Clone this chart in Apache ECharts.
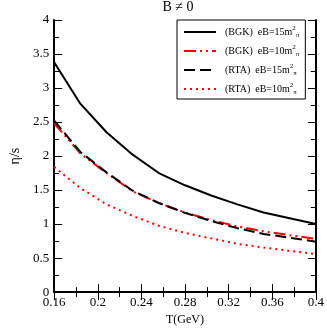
<!DOCTYPE html>
<html>
<head>
<meta charset="utf-8">
<script src="https://cdn.jsdelivr.net/npm/echarts@6/dist/echarts.min.js"></script>
<style>
  html, body { margin: 0; padding: 0; background: #fff; }
  #main { width: 327px; height: 331px; }
</style>
</head>
<body>
<div id="main"></div>
<script>
// temperature points (GeV)
var temps = [0.16, 0.184, 0.208, 0.232, 0.256, 0.28, 0.304, 0.328, 0.352, 0.376, 0.4];
// eta/s values
var bgk15 = [3.38, 2.77, 2.35, 2.02, 1.75, 1.57, 1.42, 1.29, 1.17, 1.085, 1.0];
var bgk10 = [2.48, 2.04, 1.75, 1.48, 1.31, 1.17, 1.06, 0.965, 0.893, 0.836, 0.784];
var rta15 = [2.52, 2.06, 1.76, 1.49, 1.31, 1.165, 1.045, 0.94, 0.855, 0.80, 0.74];
var rta10 = [1.84, 1.53, 1.29, 1.12, 0.975, 0.87, 0.79, 0.71, 0.655, 0.605, 0.56];

var legendText = {
    'bgk15': '{t|(BGK)  eB=15m}{sup|2}{sub|π}',
    'bgk10': '{t|(BGK)  eB=10m}{sup|2}{sub|π}',
    'rta15': '{t|(RTA)  eB=15m}{sup|2}{sub|π}',
    'rta10': '{t|(RTA)  eB=10m}{sup|2}{sub|π}'
};

function pairs(vals) {
    var out = [];
    for (var i = 0; i < temps.length; i++) {
        out.push([temps[i], vals[i]]);
    }
    return out;
}

var serif = 'Liberation Serif';
var chart = echarts.init(document.getElementById('main'));

var tickX = function (v) { return String(+v.toFixed(2)); };

var option = {
    animation: false,
    backgroundColor: '#fff',
    title: {
        text: 'B ≠ 0',
        left: 178,
        top: 0,
        padding: 0,
        textAlign: 'center',
        textStyle: { fontFamily: serif, fontSize: 14, fontWeight: 'normal', color: '#000' }
    },
    grid: { left: 38, right: 9, top: 20, bottom: 32 },
    legend: {
        left: 177,
        top: 20,
        orient: 'vertical',
        padding: [5, 6, 3, 6],
        itemGap: 5,
        itemWidth: 32,
        itemHeight: 14,
        borderColor: '#000',
        borderWidth: 1,
        borderRadius: 0,
        backgroundColor: '#fff',
        selectedMode: false,
        itemStyle: { opacity: 0, borderWidth: 0 },
        formatter: function (name) { return legendText[name]; },
        textStyle: {
            padding: [0, 0, 0, 4],
            rich: {
                t: { fontFamily: serif, fontSize: 10, color: '#000', lineHeight: 14 },
                sup: { fontFamily: serif, fontSize: 7, color: '#000', lineHeight: 14, verticalAlign: 'top' },
                sub: { fontFamily: serif, fontSize: 7, color: '#000', lineHeight: 14, verticalAlign: 'bottom' }
            }
        },
        data: ['bgk15', 'bgk10', 'rta15', 'rta10']
    },
    xAxis: [{
        type: 'value',
        min: 0.16,
        max: 0.4,
        interval: 0.04,
        name: 'T(GeV)',
        nameLocation: 'middle',
        nameGap: 18,
        nameTextStyle: { fontFamily: serif, fontSize: 12, color: '#000' },
        axisLine: { show: true, lineStyle: { color: '#000', width: 2 } },
        axisTick: { inside: true, length: 8, lineStyle: { color: '#000', width: 1 } },
        minorTick: { show: true, splitNumber: 2, length: 5, lineStyle: { color: '#000', width: 1 } },
        splitLine: { show: false },
        axisLabel: { margin: 4, fontFamily: serif, fontSize: 13, color: '#000', formatter: tickX, hideOverlap: false }
    }, {
        type: 'value',
        position: 'top',
        min: 0.16,
        max: 0.4,
        interval: 0.04,
        axisLine: { show: true, lineStyle: { color: '#000', width: 2 } },
        axisTick: { inside: true, length: 8, lineStyle: { color: '#000', width: 1 } },
        minorTick: { show: true, splitNumber: 2, length: 5, lineStyle: { color: '#000', width: 1 } },
        splitLine: { show: false },
        axisLabel: { show: false }
    }],
    yAxis: [{
        type: 'value',
        min: 0,
        max: 4,
        interval: 0.5,
        name: 'η/s',
        nameLocation: 'middle',
        nameGap: 25,
        nameRotate: 90,
        nameTextStyle: { fontFamily: serif, fontSize: 14, color: '#000' },
        axisLine: { show: true, lineStyle: { color: '#000', width: 2 } },
        axisTick: { inside: true, length: 8, lineStyle: { color: '#000', width: 1 } },
        minorTick: { show: true, splitNumber: 2, length: 5, lineStyle: { color: '#000', width: 1 } },
        splitLine: { show: false },
        axisLabel: { margin: 5, fontFamily: serif, fontSize: 13, color: '#000' }
    }, {
        type: 'value',
        position: 'right',
        min: 0,
        max: 4,
        interval: 0.5,
        axisLine: { show: true, lineStyle: { color: '#000', width: 2 } },
        axisTick: { inside: true, length: 8, lineStyle: { color: '#000', width: 1 } },
        minorTick: { show: true, splitNumber: 2, length: 5, lineStyle: { color: '#000', width: 1 } },
        splitLine: { show: false },
        axisLabel: { show: false }
    }],
    series: [{
        name: 'bgk15',
        type: 'line',
        showSymbol: false,
        symbol: 'none',
        color: '#000',
        lineStyle: { color: '#000', width: 2, type: 'solid' },
        data: pairs(bgk15)
    }, {
        name: 'bgk10',
        type: 'line',
        showSymbol: false,
        symbol: 'none',
        color: '#ff0000',
        lineStyle: { color: '#ff0000', width: 2, type: [12, 4, 2, 4, 2, 4] },
        data: pairs(bgk10)
    }, {
        name: 'rta15',
        type: 'line',
        showSymbol: false,
        symbol: 'none',
        color: '#000',
        lineStyle: { color: '#000', width: 2, type: [11, 5] },
        data: pairs(rta15)
    }, {
        name: 'rta10',
        type: 'line',
        showSymbol: false,
        symbol: 'none',
        color: '#ff0000',
        lineStyle: { color: '#ff0000', width: 2, type: [2, 4] },
        data: pairs(rta10)
    }]
};

chart.setOption(option);
</script>
</body>
</html>
